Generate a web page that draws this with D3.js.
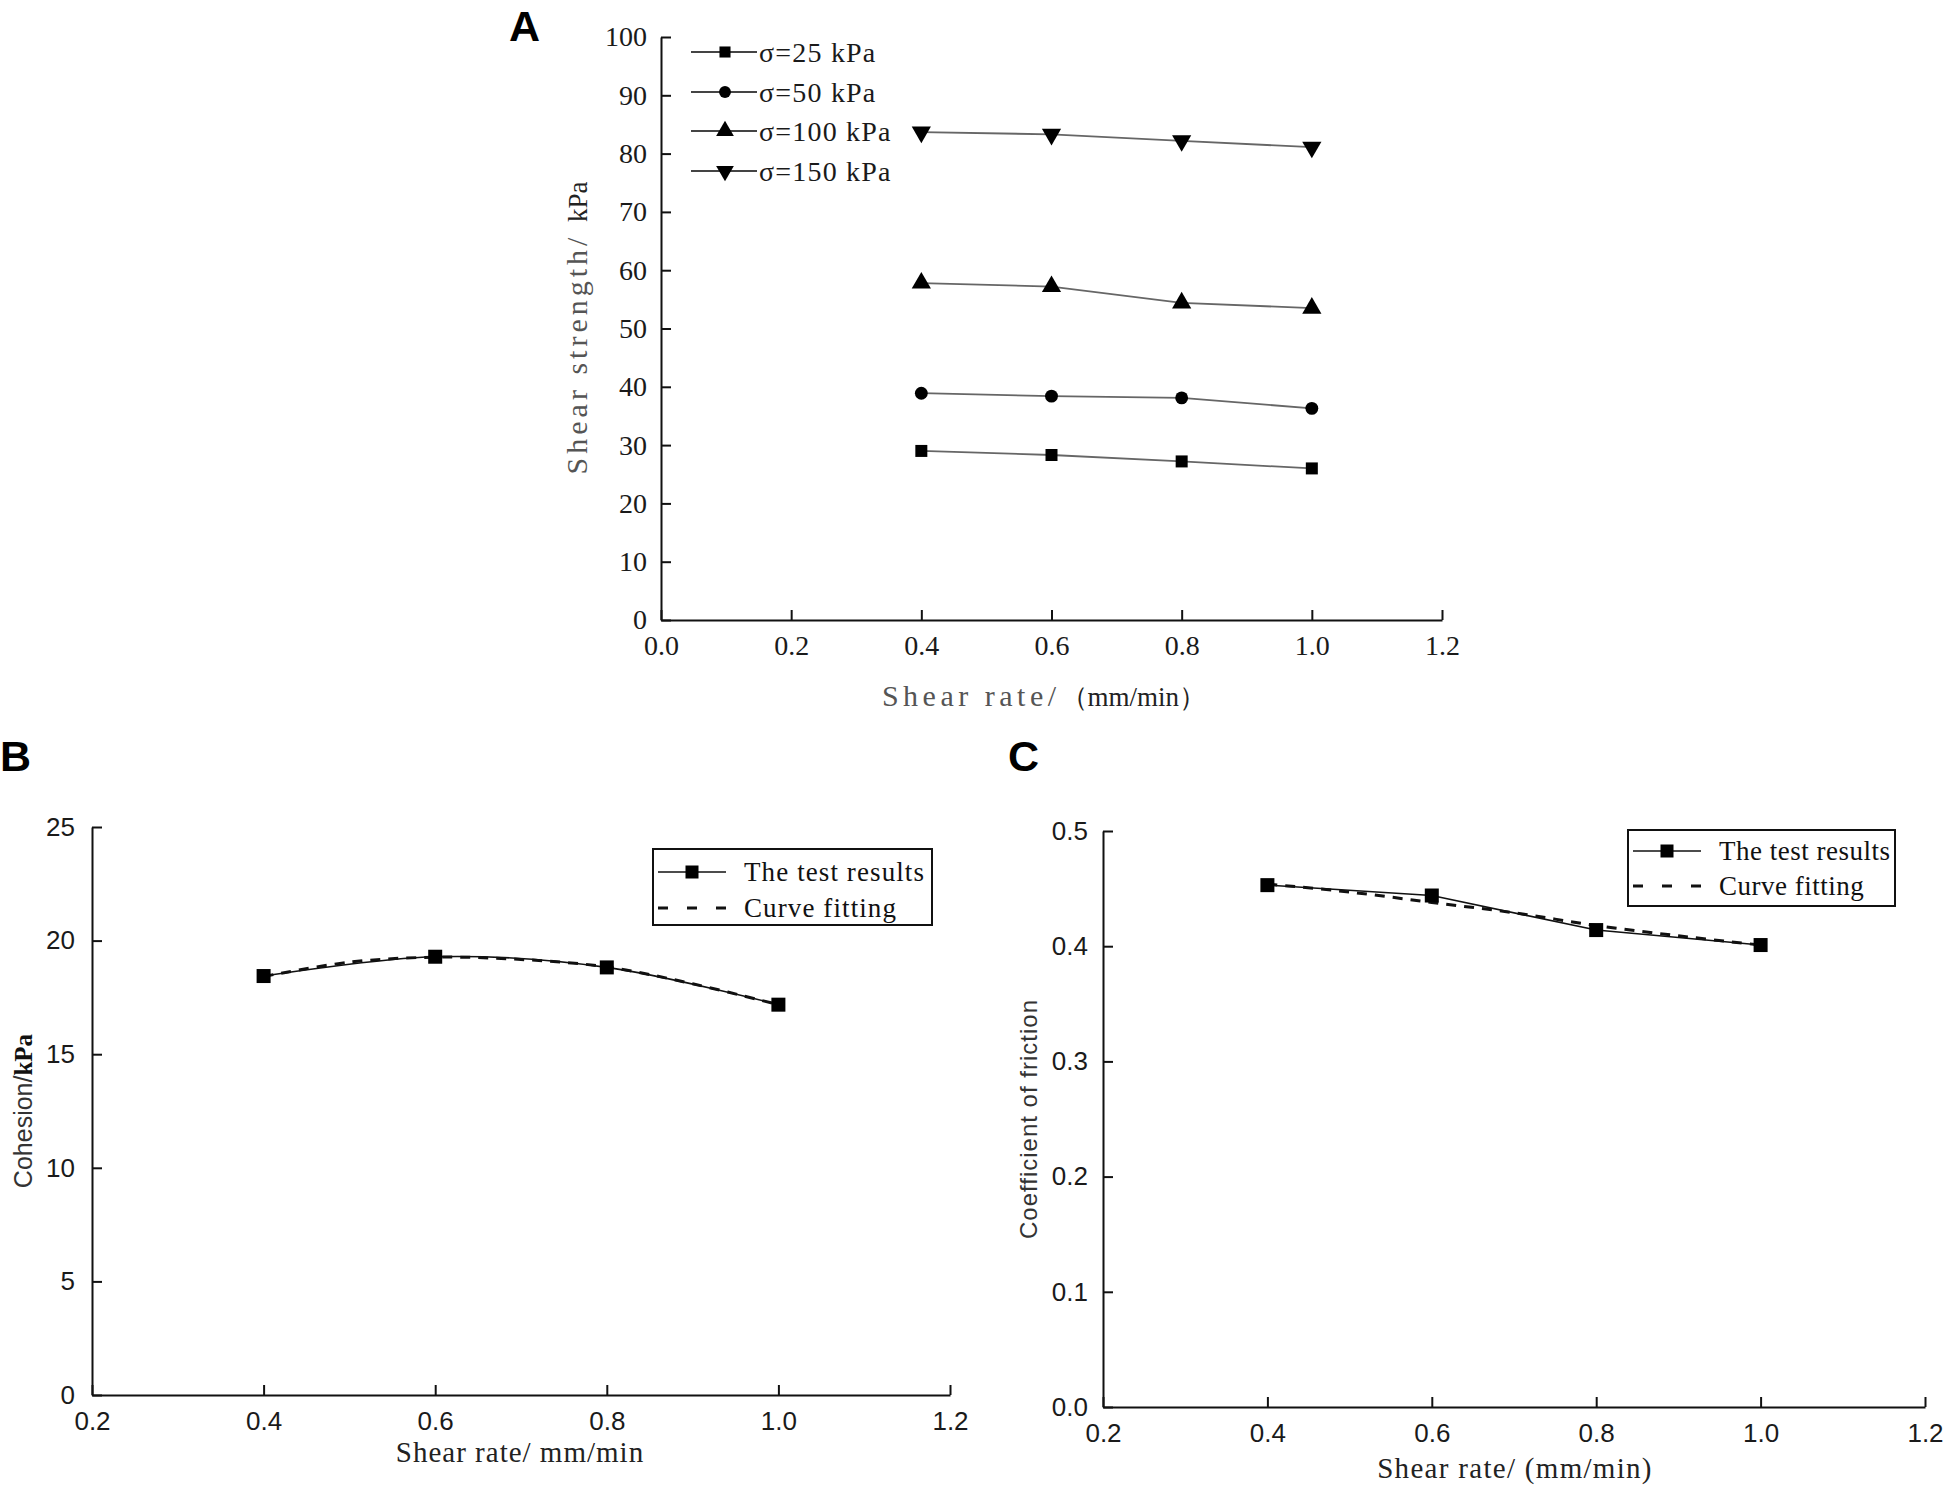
<!DOCTYPE html>
<html>
<head>
<meta charset="utf-8">
<script src="https://cdn.jsdelivr.net/npm/d3@7"></script>
<style>
  body { margin: 0; background: #fff; }
  svg { display: block; }
</style>
</head>
<body>
<div id="chartWrapper"></div>
<script>
// ---- data ----
var rates = [0.4, 0.6, 0.8, 1.0];

// panel A : shear strength (kPa) per normal stress
var stressLabels = ["σ=25 kPa", "σ=50 kPa", "σ=100 kPa", "σ=150 kPa"];
var s25  = [29.0, 28.3, 27.2, 26.0];
var s50  = [38.9, 38.4, 38.1, 36.3];
var s100 = [57.8, 57.2, 54.4, 53.5];
var s150 = [83.7, 83.3, 82.2, 81.1];

// panel B : cohesion (kPa)
var cohesion = [18.44, 19.29, 18.82, 17.18];
var fitRates = [0.4, 0.5, 0.6, 0.7, 0.8, 0.9, 1.0];
var cohesionFit = [18.42, 19.05, 19.27, 19.17, 18.84, 18.1, 17.18];

// panel C : coefficient of friction
var friction = [0.453, 0.444, 0.414, 0.401];
var frictionFit = [0.454, 0.447, 0.438, 0.429, 0.418, 0.409, 0.401];

var ticksA_x = [0, 0.2, 0.4, 0.6, 0.8, 1.0, 1.2];
var ticksA_y = [0, 10, 20, 30, 40, 50, 60, 70, 80, 90, 100];
var ticksBC_x = [0.2, 0.4, 0.6, 0.8, 1.0, 1.2];
var ticksB_y = [0, 5, 10, 15, 20, 25];
var ticksC_y = [0, 0.1, 0.2, 0.3, 0.4, 0.5];

var W = 1949, H = 1489;
var svg = d3.select("#chartWrapper")
    .append("svg")
    .attr("width", W)
    .attr("height", H);

svg.append("rect").attr("width", W).attr("height", H).attr("fill", "white");

var serif = "'Liberation Serif', 'Times New Roman', serif";
var sans = "'Liberation Sans', Arial, sans-serif";

function drawAxes(g, x, y, xt, yt, xfmt, yfmt, font, size, padX, padY) {
    var ax = g.append("g")
        .attr("transform", "translate(0," + y.range()[0] + ")")
        .call(d3.axisBottom(x).tickValues(xt).tickFormat(d3.format(xfmt))
            .tickSizeInner(-10).tickSizeOuter(0).tickPadding(padX));
    var ay = g.append("g")
        .attr("transform", "translate(" + x.range()[0] + ",0)")
        .call(d3.axisLeft(y).tickValues(yt).tickFormat(d3.format(yfmt))
            .tickSizeInner(-10).tickSizeOuter(0).tickPadding(padY));
    [ax, ay].forEach(function(a) {
        a.attr("font-family", font).attr("font-size", size);
        a.select(".domain").attr("stroke", "#111").attr("stroke-width", 2);
        a.selectAll(".tick line").attr("stroke", "#111").attr("stroke-width", 2);
        a.selectAll(".tick text")
            .attr("fill", "#1a1a1a")
            .style("font-family", font)
            .style("font-size", size + "px");
    });
}

function panelLetter(txt, x, y) {
    svg.append("text")
        .attr("x", x).attr("y", y)
        .style("font-family", sans)
        .style("font-weight", "bold")
        .style("font-size", "43px")
        .text(txt);
}

// ================= panel A =================
var xA = d3.scaleLinear().domain([0, 1.2]).range([661, 1442]);
var yA = d3.scaleLinear().domain([0, 100]).range([620, 37]);
var gA = svg.append("g");
drawAxes(gA, xA, yA, ticksA_x, ticksA_y, ".1f", "d", serif, 28, 15, 14);
panelLetter("A", 509, 41);

var seriesA = [s25, s50, s100, s150];
var symA = [
    { type: d3.symbolSquare, size: 144, rot: 0 },
    { type: d3.symbolCircle, size: 130, rot: 0 },
    { type: d3.symbolTriangle, size: 160, rot: 0 },
    { type: d3.symbolTriangle, size: 160, rot: 180 }
];

var lineA = d3.line()
    .x(function(d, i) { return xA(rates[i]); })
    .y(function(d) { return yA(d); });

seriesA.forEach(function(vals, k) {
    gA.append("path")
        .datum(vals)
        .attr("d", lineA)
        .attr("fill", "none")
        .attr("stroke", "#666")
        .attr("stroke-width", 1.8);
    gA.selectAll(".mk" + k)
        .data(vals)
        .enter()
        .append("path")
        .attr("class", "mk" + k)
        .attr("transform", function(d, i) {
            return "translate(" + xA(rates[i]) + "," + yA(d) + ") rotate(" + symA[k].rot + ")";
        })
        .attr("d", d3.symbol().type(symA[k].type).size(symA[k].size))
        .attr("fill", "#000");
});

// legend A
var legRowsA = [52, 92, 131, 171];
stressLabels.forEach(function(lab, k) {
    var ly = legRowsA[k];
    gA.append("line")
        .attr("x1", 691).attr("x2", 757)
        .attr("y1", ly).attr("y2", ly)
        .attr("stroke", "#444").attr("stroke-width", 1.8);
    gA.append("path")
        .attr("transform", "translate(725," + ly + ") rotate(" + symA[k].rot + ")")
        .attr("d", d3.symbol().type(symA[k].type).size(symA[k].size * 0.85))
        .attr("fill", "#000");
    gA.append("text")
        .attr("x", 759).attr("y", ly)
        .attr("dy", "0.35em")
        .attr("fill", "#1a1a1a")
        .style("font-family", serif)
        .style("font-size", "28px")
        .style("letter-spacing", "1.2px")
        .text(lab);
});

// axis titles A
var tyA = gA.append("text")
    .attr("transform", "translate(587,328) rotate(-90)")
    .attr("text-anchor", "middle")
    .style("font-family", serif);
tyA.append("tspan").attr("fill", "#555").style("font-size", "30px")
    .style("letter-spacing", "4px").text("Shear strength/ ");
tyA.append("tspan").attr("fill", "#222").style("font-size", "27px").text("kPa");

var txA = gA.append("text")
    .attr("x", 1044).attr("y", 706)
    .attr("text-anchor", "middle")
    .style("font-family", serif);
txA.append("tspan").attr("fill", "#555").style("font-size", "30px")
    .style("letter-spacing", "4.5px").text("Shear rate/");
txA.append("tspan").attr("fill", "#222").style("font-size", "27px").text("（mm/min）");

// ================= panels B and C =================
function fitPanel(x, y, vals, fit, legBox, legRows, solidCurve) {
    var g = svg.append("g");
    var solid = d3.line()
        .curve(solidCurve)
        .x(function(d, i) { return x(rates[i]); })
        .y(function(d) { return y(d); });
    var dashed = d3.line()
        .curve(d3.curveCardinal)
        .x(function(d, i) { return x(fitRates[i]); })
        .y(function(d) { return y(d); });

    g.append("path").datum(fit).attr("d", dashed)
        .attr("fill", "none").attr("stroke", "#111")
        .attr("stroke-width", 3).attr("stroke-dasharray", "10,8");
    g.append("path").datum(vals).attr("d", solid)
        .attr("fill", "none").attr("stroke", "#111").attr("stroke-width", 1.6);
    g.selectAll(".pt").data(vals).enter().append("rect")
        .attr("class", "pt")
        .attr("x", function(d, i) { return x(rates[i]) - 7; })
        .attr("y", function(d) { return y(d) - 7; })
        .attr("width", 14).attr("height", 14)
        .attr("fill", "#000");

    // legend
    g.append("rect")
        .attr("x", legBox[0]).attr("y", legBox[1])
        .attr("width", legBox[2]).attr("height", legBox[3])
        .attr("fill", "white").attr("stroke", "#111").attr("stroke-width", 2);
    var lx = legBox[0] + 5;
    g.append("line").attr("x1", lx).attr("x2", lx + 68)
        .attr("y1", legRows[0]).attr("y2", legRows[0])
        .attr("stroke", "#111").attr("stroke-width", 1.6);
    g.append("rect").attr("x", lx + 34 - 6.5).attr("y", legRows[0] - 6.5)
        .attr("width", 13).attr("height", 13).attr("fill", "#000");
    g.append("line").attr("x1", lx).attr("x2", lx + 68)
        .attr("y1", legRows[1]).attr("y2", legRows[1])
        .attr("stroke", "#111").attr("stroke-width", 3.2)
        .attr("stroke-dasharray", "10,19");
    ["The test results", "Curve fitting"].forEach(function(t, k) {
        g.append("text")
            .attr("x", lx + 86).attr("y", legRows[k])
            .attr("dy", "0.35em")
            .attr("fill", "#111")
            .style("font-family", serif)
            .style("font-size", "27px")
            .style("letter-spacing", legBox[4] + "px")
            .text(t);
    });
    return g;
}

// panel B
var xB = d3.scaleLinear().domain([0.2, 1.2]).range([92, 950]);
var yB = d3.scaleLinear().domain([0, 25]).range([1395, 827]);
var gB = fitPanel(xB, yB, cohesion, cohesionFit, [653, 849, 279, 76, 1.1], [872, 908], d3.curveCardinal);
drawAxes(gB, xB, yB, ticksBC_x, ticksB_y, ".1f", "d", sans, 26, 17, 17);
panelLetter("B", 0, 771);

var tyB = gB.append("text")
    .attr("transform", "translate(32,1111) rotate(-90)")
    .attr("text-anchor", "middle");
tyB.append("tspan").attr("fill", "#333").style("font-family", sans)
    .style("font-size", "25px").text("Cohesion/");
tyB.append("tspan").attr("fill", "#111").style("font-family", serif)
    .style("font-weight", "bold").style("font-size", "25px").text("kPa");

gB.append("text")
    .attr("x", 520).attr("y", 1462)
    .attr("text-anchor", "middle")
    .attr("fill", "#222")
    .style("font-family", serif)
    .style("font-size", "29px")
    .style("letter-spacing", "1px")
    .text("Shear rate/ mm/min");

// panel C
var xC = d3.scaleLinear().domain([0.2, 1.2]).range([1103, 1925]);
var yC = d3.scaleLinear().domain([0, 0.5]).range([1407, 831]);
var gC = fitPanel(xC, yC, friction, frictionFit, [1628, 830, 267, 76, 0.5], [851, 886], d3.curveLinear);
drawAxes(gC, xC, yC, ticksBC_x, ticksC_y, ".1f", ".1f", sans, 26, 17, 15);
panelLetter("C", 1008, 771);

gC.append("text")
    .attr("transform", "translate(1037,1119) rotate(-90)")
    .attr("text-anchor", "middle")
    .attr("fill", "#333")
    .style("font-family", sans)
    .style("font-size", "24px")
    .style("letter-spacing", "1px")
    .text("Coefficient of friction");

gC.append("text")
    .attr("x", 1515).attr("y", 1478)
    .attr("text-anchor", "middle")
    .attr("fill", "#222")
    .style("font-family", serif)
    .style("font-size", "29px")
    .style("letter-spacing", "1.3px")
    .text("Shear rate/ (mm/min)");
</script>
</body>
</html>
